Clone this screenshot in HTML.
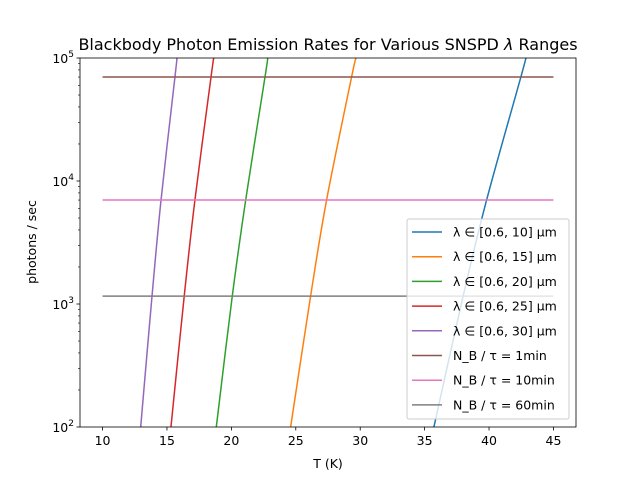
<!DOCTYPE html>
<html><head><meta charset="utf-8"><style>
body{margin:0;background:#fff;}
svg text{font-family:"DejaVu Sans","Liberation Sans",sans-serif;fill:#000;}
</style></head><body>
<svg id="chart" width="640" height="480" xmlns="http://www.w3.org/2000/svg">
<rect width="640" height="480" fill="#fff"/>
<text x="328" y="50" font-size="16" text-anchor="middle">Blackbody Photon Emission Rates for Various SNSPD <tspan font-style="italic">λ</tspan> Ranges</text>
<g id="plot"></g>
<g id="axes"></g>
<g id="legend"></g>
</svg>
<script>
const xTicks=[10,15,20,25,30,35,40,45];
const yTicks=[2,3,4,5];
const seriesNames=["λ ∈ [0.6, 10] μm","λ ∈ [0.6, 15] μm","λ ∈ [0.6, 20] μm","λ ∈ [0.6, 25] μm","λ ∈ [0.6, 30] μm"];
const colors=["#1f77b4","#ff7f0e","#2ca02c","#d62728","#9467bd","#8c564b","#e377c2","#7f7f7f"];
const rates=[100,1160,7000,70000,100000];
const temps10=[35.72,37.99,39.81,42.47,42.86];
const temps15=[24.6,26.15,27.39,29.33,29.67];
const temps20=[18.83,20.07,21.11,22.61,22.82];
const temps25=[15.31,16.34,17.17,18.42,18.63];
const temps30=[12.96,13.84,14.54,15.62,15.78];
const nbLabels=["N_B / τ = 1min","N_B / τ = 10min","N_B / τ = 60min"];
const nbRates=[70000,7000,1160];
const nbRange=[10,45];

const NS="http://www.w3.org/2000/svg";
const L=80,R=576,T=58,B=427;
const xmin=8.25,xmax=46.75;
const X=t=>L+(t-xmin)/(xmax-xmin)*(R-L);
const Y=v=>B-(Math.log10(v)-2)/3*(B-T);
function mk(tag,attrs,parent){const e=document.createElementNS(NS,tag);for(const k in attrs)e.setAttribute(k,attrs[k]);parent.appendChild(e);return e;}
function smoothPath(p){let d='M'+p[0][0]+','+p[0][1];
 for(let i=0;i<p.length-1;i++){const p0=p[i-1]||p[i],p1=p[i],p2=p[i+1],p3=p[i+2]||p2;
  const c1=[p1[0]+(p2[0]-p0[0])/6,p1[1]+(p2[1]-p0[1])/6],c2=[p2[0]-(p3[0]-p1[0])/6,p2[1]-(p3[1]-p1[1])/6];
  d+=' C'+c1+' '+c2+' '+p2;}return d;}
const plot=document.getElementById('plot'),axes=document.getElementById('axes'),leg=document.getElementById('legend');
const cp=mk('clipPath',{id:'clip'},plot);mk('rect',{x:L,y:T,width:R-L,height:B-T},cp);
const g=mk('g',{'clip-path':'url(#clip)'},plot);
const T_=[temps10,temps15,temps20,temps25,temps30];
const tags=["10","15","20","25","30"];
for(let i=0;i<5;i++){
 const pts=T_[i].map((t,j)=>[X(t),Y(rates[j])]);
 const p=mk('path',{d:smoothPath(pts),fill:'none',stroke:colors[i],'stroke-width':1.5},g);
 
 
}
const nbTags=["1min","10min","60min"];
for(let i=0;i<3;i++){
 const l=mk('line',{x1:X(nbRange[0]),x2:X(nbRange[1]),y1:Y(nbRates[i]),y2:Y(nbRates[i]),stroke:colors[5+i],'stroke-width':1.5},g);
 
 
}
mk('rect',{x:L,y:T,width:R-L,height:B-T,fill:'none',stroke:'#000','stroke-width':0.8},axes);
xTicks.forEach(t=>{const x=X(t);mk('line',{x1:x,x2:x,y1:B,y2:B+3.5,stroke:'#000','stroke-width':0.8},axes);
 const tx=mk('text',{x:x,y:B+18,'font-size':12.5,'text-anchor':'middle'},axes);tx.textContent=t;
 
 });
yTicks.forEach(p=>{const y=Y(Math.pow(10,p));mk('line',{x1:L-3.5,x2:L,y1:y,y2:y,stroke:'#000','stroke-width':0.8},axes);
 const tx=mk('text',{x:L-6,y:y+5,'font-size':12.5,'text-anchor':'end'},axes);tx.innerHTML='10<tspan dy="-6" font-size="9">'+p+'</tspan>';
 
 
 for(let k=2;k<10&&p<5;k++){const yy=Y(k*Math.pow(10,p));mk('line',{x1:L-2,x2:L,y1:yy,y2:yy,stroke:'#000','stroke-width':0.6},axes);}});
const xl=mk('text',{x:328,y:468,'font-size':12.5,'text-anchor':'middle'},axes);xl.textContent='T (K)';


const yl=mk('text',{x:36,y:242,'font-size':12.5,'text-anchor':'middle',transform:'rotate(-90 36 242)'},axes);yl.textContent='photons / sec';


const box=mk('rect',{x:407,y:219,width:162,height:200,rx:2,fill:'#fff','fill-opacity':0.8,stroke:'#ccc'},leg);


const labels=seriesNames.concat(nbLabels);
labels.forEach((s,i)=>{const y=232+i*24.7;
 mk('line',{x1:412,x2:442,y1:y,y2:y,stroke:colors[i],'stroke-width':1.5},leg);
 const tx=mk('text',{x:453,y:y+4.5,'font-size':12.5},leg);tx.textContent=s;
 
 });
</script>
</body></html>
